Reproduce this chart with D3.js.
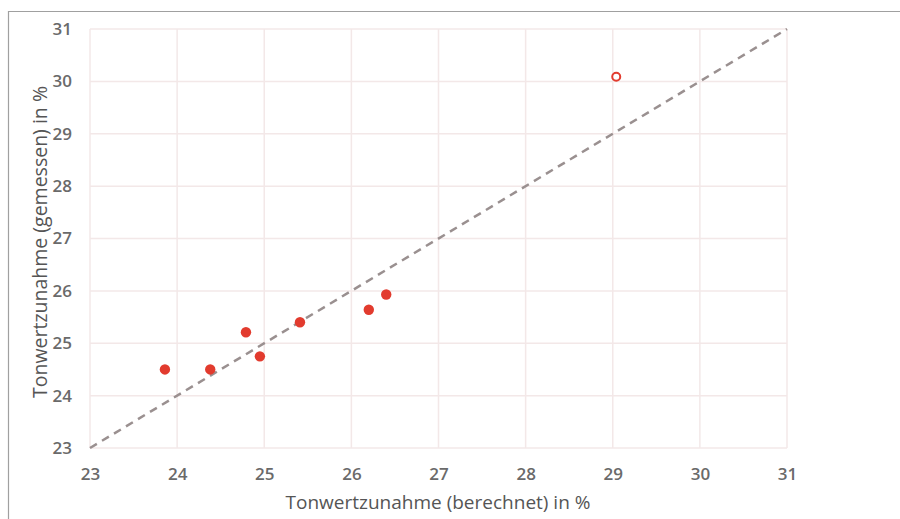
<!DOCTYPE html>
<html><head><meta charset="utf-8">
<script src="https://cdn.jsdelivr.net/npm/d3@7"></script>
<style>body{margin:0;background:#fff}svg{display:block}</style>
</head><body>
<svg id="c" width="900" height="519"></svg>
<script>
const xTicks = [23,24,25,26,27,28,29,30,31];
const yTicks = [23,24,25,26,27,28,29,30,31];
const measuredX = [23.86, 24.38, 24.79, 24.95, 25.41, 26.2, 26.4];
const measuredY = [24.5, 24.5, 25.21, 24.75, 25.4, 25.64, 25.93];
const outlierX = [29.04];
const outlierY = [30.09];
const xTitle = "Tonwertzunahme (berechnet) in %";
const yTitle = "Tonwertzunahme (gemessen) in %";

const svg = d3.select("#c");
// frame
svg.append("path").attr("d","M8.5,519 L8.5,11.5 L900,11.5").attr("fill","none").attr("stroke","#a0a0a0").attr("stroke-width",1.2);

const x = d3.scaleLinear().domain([23,31]).range([90,787]);
const y = d3.scaleLinear().domain([23,31]).range([448,29]);

const g = svg.append("g");
// grid
g.selectAll(".vx").data(xTicks).join("line")
  .attr("x1",d=>x(d)).attr("x2",d=>x(d)).attr("y1",y(31)).attr("y2",y(23))
  .attr("stroke","#f3e8e8").attr("stroke-width",1.5);
g.selectAll(".hy").data(yTicks).join("line")
  .attr("y1",d=>y(d)).attr("y2",d=>y(d)).attr("x1",x(23)).attr("x2",x(31))
  .attr("stroke","#f3e8e8").attr("stroke-width",1.5);

// axes labels via d3 axis
const xa = svg.append("g").attr("transform",`translate(0,${y(23)})`)
  .call(d3.axisBottom(x).tickValues(xTicks).tickSize(0).tickPadding(20));
const ya = svg.append("g").attr("transform",`translate(${x(23)},0)`)
  .call(d3.axisLeft(y).tickValues(yTicks).tickSize(0).tickPadding(18));
[xa,ya].forEach(a=>{
  a.select(".domain").remove();
  a.selectAll("text").attr("font-family","Open Sans, sans-serif").attr("font-size",17).attr("fill","#6a6a6a").attr("font-weight",600);
});
xa.selectAll("text").attr("y",26).attr("dy","0.35em");

// diagonal
svg.append("line").attr("x1",x(23)).attr("y1",y(23)).attr("x2",x(31)).attr("y2",y(31))
  .attr("stroke","#9a9090").attr("stroke-width",2.5).attr("stroke-dasharray","8,6");

// points
svg.selectAll(".pt").data(measuredX.map((v,i)=>[v,measuredY[i]])).join("circle")
  .attr("cx",d=>x(d[0])).attr("cy",d=>y(d[1])).attr("r",5.2).attr("fill","#e23b2e");
svg.selectAll(".op").data(outlierX.map((v,i)=>[v,outlierY[i]])).join("circle")
  .attr("cx",d=>x(d[0])).attr("cy",d=>y(d[1])).attr("r",4).attr("fill","#fff")
  .attr("stroke","#e23b2e").attr("stroke-width",2);

// titles
svg.append("text").attr("x",438).attr("y",509).attr("text-anchor","middle")
  .attr("font-family","Open Sans, sans-serif").attr("font-size",19).attr("fill","#555").text(xTitle);
svg.append("text").attr("transform","translate(47,242) rotate(-90)").attr("text-anchor","middle")
  .attr("font-family","Open Sans, sans-serif").attr("font-size",19.5).attr("fill","#555").text(yTitle);
</script>
</body></html>
